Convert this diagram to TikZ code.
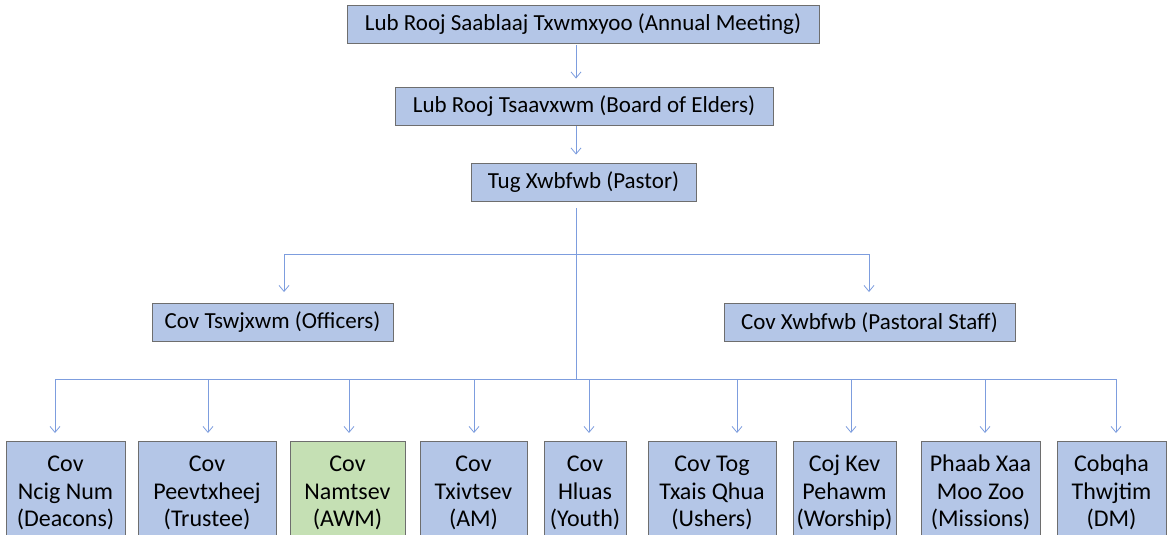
\documentclass[tikz,border=0pt]{standalone}
\usepackage{fontspec}
\setmainfont{Carlito}
\usetikzlibrary{arrows.meta}
\definecolor{boxblue}{RGB}{180,198,231}
\definecolor{boxgreen}{RGB}{197,224,180}
\definecolor{boxline}{RGB}{110,110,110}
\definecolor{connblue}{RGB}{125,157,222}
\tikzset{
  topbox/.style={draw=boxline, fill=boxblue, line width=0.9pt, minimum height=38pt,
    inner xsep=0pt, font=\fontsize{23}{27}\selectfont},
  botbox/.style={draw=boxline, fill=boxblue, line width=0.9pt, anchor=north,
    minimum height=100pt, inner xsep=0pt, inner ysep=0pt, align=center,
    font=\fontsize{24}{27.5}\selectfont},
  conn/.style={draw=connblue, line width=0.8pt},
  arr/.style={conn, -{Straight Barb[length=6pt,width=10pt]}, shorten >=8pt}
}
\begin{document}
\begin{tikzpicture}[x=1pt,y=-1pt]
\useasboundingbox (0,0) rectangle (1167,535);
\coordinate (spine) at (576,0);
% top chain
\node[topbox, minimum width=472pt] (am) at (583,24.5) {Lub Rooj Saablaaj Txwmxyoo (Annual Meeting)};
\node[topbox, minimum width=378pt] (be) at (584,106) {Lub Rooj Tsaavxwm (Board of Elders)};
\node[topbox, minimum width=225pt] (pa) at (583.5,182) {Tug Xwbfwb (Pastor)};
\draw[arr, shorten <=1.5pt] (am.south -| spine) -- (be.north -| spine);
\draw[arr, shorten <=1pt] (be.south -| spine) -- (pa.north -| spine);
% middle level
\node[topbox, minimum width=241pt] (of) at (272.5,322.5) {Cov Tswjxwm (Officers)};
\node[topbox, minimum width=291pt] (ps) at (869.5,322.5) {Cov Xwbfwb (Pastoral Staff)};
\coordinate (upL) at (284,254);
\coordinate (upR) at (869,254);
\coordinate (busL) at (55,379);
\coordinate (busR) at (1116,379);
\coordinate (busM) at (576,379);
\draw[conn, shorten <=7pt] (pa.south -| spine) -- (busM);
\draw[conn] (upL) -- (upR);
\draw[arr, shorten >=11pt] (upL) -- (of.north -| upL);
\draw[arr, shorten >=11pt] (upR) -- (ps.north -| upR);
% bottom level
\draw[conn] (busL) -- (busR);
\node[botbox, minimum width=119pt] (b1) at (65.5,441) {\strut Cov\\Ncig Num\\(Deacons)};
\node[botbox, minimum width=138pt] (b2) at (207,441) {\strut Cov\\Peevtxheej\\(Trustee)};
\node[botbox, minimum width=115pt, fill=boxgreen] (b3) at (347.5,441) {\strut Cov\\Namtsev\\(AWM)};
\node[botbox, minimum width=107pt] (b4) at (473.5,441) {\strut Cov\\Txivtsev\\(AM)};
\node[botbox, minimum width=82pt] (b5) at (585,441) {\strut Cov\\Hluas\\(Youth)};
\node[botbox, minimum width=128pt] (b6) at (712,441) {\strut Cov Tog\\Txais Qhua\\(Ushers)};
\node[botbox, minimum width=103pt] (b7) at (844.5,441) {\strut Coj Kev\\Pehawm\\(Worship)};
\node[botbox, minimum width=119pt] (b8) at (980.5,441) {\strut Phaab Xaa\\Moo Zoo\\(Missions)};
\node[botbox, minimum width=109pt] (b9) at (1111.5,441) {\strut Cobqha\\Thwjtim\\(DM)};
\foreach \i/\x in {1/55,2/208,3/349,4/474,5/589,6/737,7/851,8/985,9/1116}{
  \coordinate (d\i) at (\x,379);
  \draw[arr] (d\i) -- (b\i.north -| d\i);
}
\end{tikzpicture}
\end{document}
